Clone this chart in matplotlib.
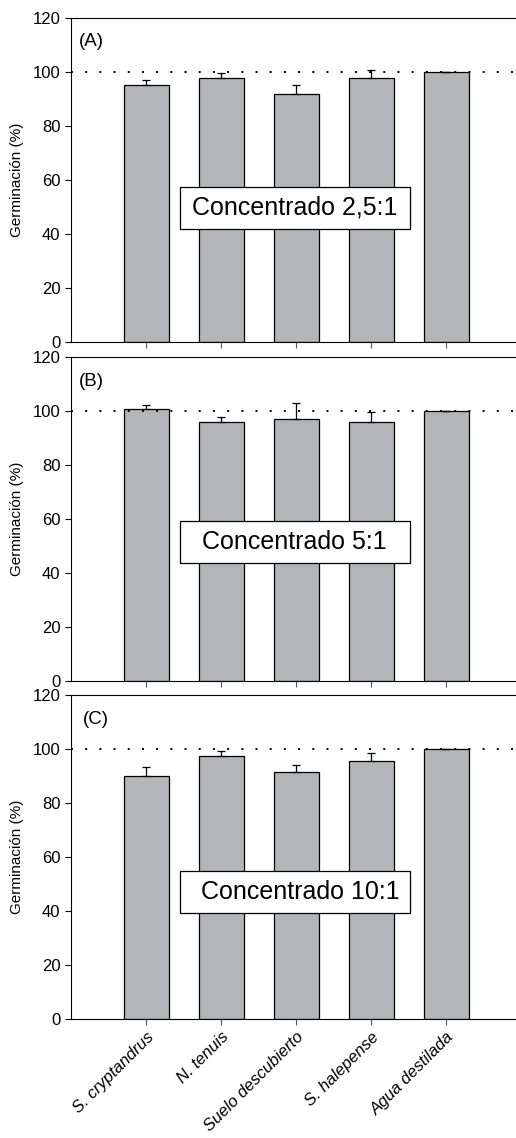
import matplotlib

matplotlib.use("Agg")
import matplotlib.pyplot as plt
from matplotlib.patches import Rectangle

plt.rcParams["font.family"] = ["Liberation Sans", "DejaVu Sans"]

categories = ["S. cryptandrus", "N. tenuis", "Suelo descubierto", "S. halepense", "Agua destilada"]
panel_labels = ["(A)", "(B)", "(C)"]
box_texts = ["Concentrado 2,5:1", "Concentrado 5:1", "Concentrado 10:1"]

germ_a = [95.3, 97.6, 91.8, 97.8, 100.0]
err_a = [1.8, 2.1, 3.5, 3.1, 0.0]
germ_b = [100.9, 96.0, 97.2, 96.1, 100.0]
err_b = [1.4, 1.8, 5.7, 3.4, 0.0]
germ_c = [90.1, 97.4, 91.5, 95.7, 100.0]
err_c = [3.4, 1.7, 2.5, 2.8, 0.0]

panels = [(germ_a, err_a), (germ_b, err_b), (germ_c, err_c)]

W, H = 516, 1138
fig = plt.figure(figsize=(W / 100, H / 100), dpi=100)

left_px, right_px = 71, 516
tops_px = [18, 357, 695]
height_px = 324
# box: top offset inside axes (px), text x centre (px)
box_top_px = [169, 164, 176]
text_x_px = [295, 294, 300]
label_x_px = [79, 79, 83]

x = list(range(len(categories)))
for i, (vals, errs) in enumerate(panels):
    ax = fig.add_axes([left_px / W, 1 - (tops_px[i] + height_px) / H,
                       (right_px - left_px) / W, height_px / H])
    ax.bar(x, vals, width=0.6, color="#b4b5b9", edgecolor="black", linewidth=0.9, zorder=2)
    ax.errorbar(x, vals, yerr=[[0] * len(errs), errs], fmt="none", ecolor="black",
                elinewidth=0.9, capsize=3, capthick=0.9, zorder=3)
    ax.axhline(100, color="black", linestyle=(0, (1, 6.3)), linewidth=1.4, zorder=4)
    ax.set_xlim(-1, 4.93)
    ax.set_ylim(0, 120)
    ax.set_yticks(range(0, 121, 20))
    ax.tick_params(axis="y", direction="out", length=4, labelsize=12, width=0.8)
    ax.tick_params(axis="x", direction="out", length=4, width=0.8, color="#555555")
    ax.set_xticks(x)
    if i == 2:
        ax.set_xticklabels(categories, rotation=45, ha="right", rotation_mode="anchor",
                           fontsize=12, style="italic")
    else:
        ax.set_xticklabels([])
    ax.spines["right"].set_visible(False)
    for s in ("left", "top", "bottom"):
        ax.spines[s].set_linewidth(0.8)
    ax.set_ylabel("Germinación (%)", fontsize=11, labelpad=6)

    ax.text((label_x_px[i] - left_px) / (right_px - left_px), 1 - 24 / height_px,
            panel_labels[i], transform=ax.transAxes, fontsize=13.5, va="center", ha="left")

    bx0 = (180 - left_px) / (right_px - left_px)
    bx1 = (410 - left_px) / (right_px - left_px)
    btop = 1 - box_top_px[i] / height_px
    bh = 42 / height_px
    ax.add_patch(Rectangle((bx0, btop - bh), bx1 - bx0, bh, transform=ax.transAxes,
                           facecolor="white", edgecolor="black", linewidth=0.9, zorder=5))
    ax.text((text_x_px[i] - left_px) / (right_px - left_px), btop - bh / 2, box_texts[i],
            transform=ax.transAxes, fontsize=18, ha="center", va="center", zorder=6)

fig.savefig("out.png", dpi=100)
